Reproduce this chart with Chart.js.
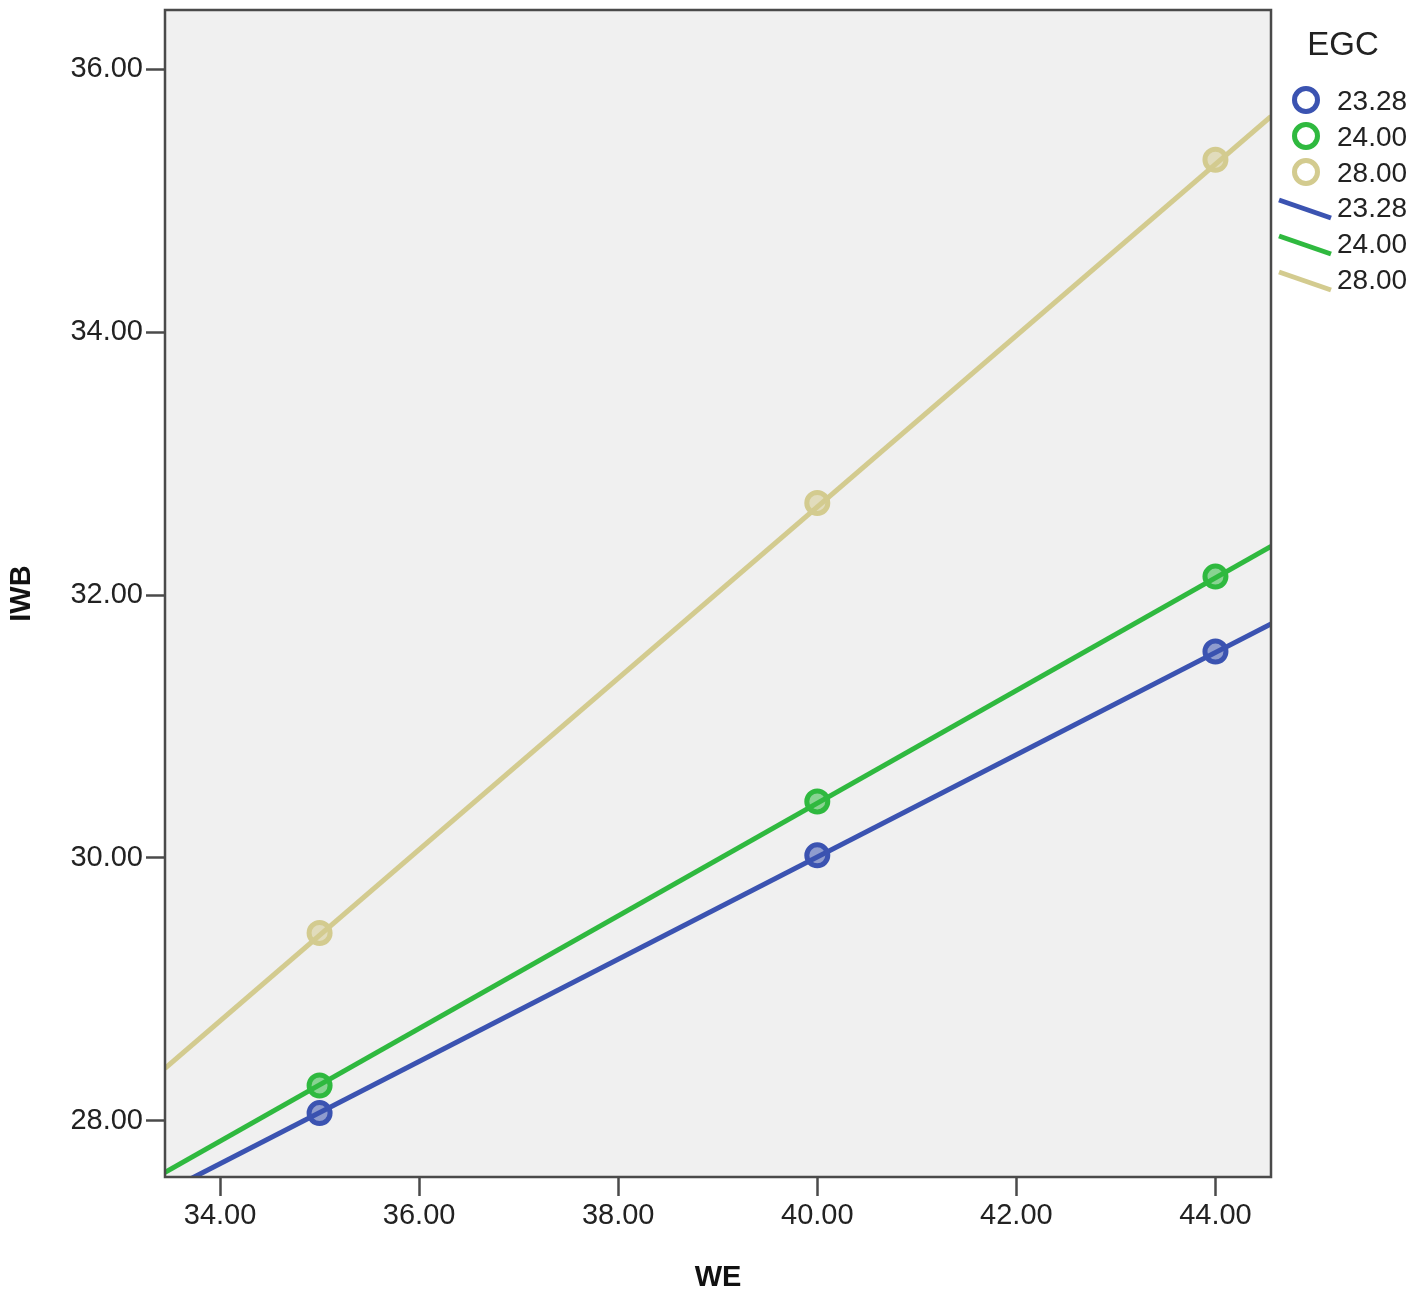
<!DOCTYPE html>
<html>
<head>
<meta charset="utf-8">
<script src="https://cdn.jsdelivr.net/npm/chart.js@4.4.1/dist/chart.umd.min.js"></script>
<style>
  html, body { margin: 0; padding: 0; background: #fff; }
  #wrap { width: 1418px; height: 1297px; }
</style>
</head>
<body>
<div id="wrap"><canvas id="chart" width="1418" height="1297"></canvas></div>
<script>
// EGC groups
var groupLabels = ["23.28", "24.00", "28.00"];
var groupColors = ["#3b53b1", "#2fb93f", "#d3cb8f"];

// observed points (WE -> IWB)
var pointX = [35, 40, 44];
var bluePoints  = [28.06, 30.02, 31.57];
var greenPoints = [28.27, 30.43, 32.14];
var tanPoints   = [29.43, 32.70, 35.31];

// fit lines, read at left and right edge of the plot
var lineX = [33.447, 44.558];
var blueLine  = [27.46, 31.78];
var greenLine = [27.61, 32.37];
var tanLine   = [28.40, 35.64];

// axes
var xTicks = [34, 36, 38, 40, 42, 44];
var yTicks = [28, 30, 32, 34, 36];
var xRange = [33.447, 44.558];
var yRange = [27.574, 36.449];

function pairs(xs, ys) {
  return xs.map(function(x, i) { return { x: x, y: ys[i] }; });
}

var FONT = "'Liberation Sans', Arial, sans-serif";

function pointSet(label, data, color) {
  return {
    label: label,
    data: pairs(pointX, data),
    showLine: false,
    pointRadius: 10.5,
    pointBorderWidth: 5,
    pointBorderColor: color,
    pointBackgroundColor: color + "88",
    order: 0
  };
}
function lineSet(label, data, color) {
  return {
    label: label,
    data: pairs(lineX, data),
    showLine: true,
    borderColor: color,
    borderWidth: 5,
    pointRadius: 0,
    order: 1
  };
}

var plotFrame = {
  id: "plotFrame",
  beforeDatasetsDraw: function(chart) {
    var a = chart.chartArea, ctx = chart.ctx;
    ctx.save();
    ctx.fillStyle = "#f0f0f0";
    ctx.fillRect(a.left, a.top, a.right - a.left, a.bottom - a.top);
    ctx.restore();
  },
  afterDraw: function(chart) {
    var a = chart.chartArea, ctx = chart.ctx;
    ctx.save();
    ctx.strokeStyle = "#4a4a4a";
    ctx.lineWidth = 2.5;
    ctx.strokeRect(a.left, a.top, a.right - a.left, a.bottom - a.top);
    ctx.restore();
  }
};

var sideLegend = {
  id: "sideLegend",
  afterDraw: function(chart) {
    var ctx = chart.ctx;
    var x0 = chart.chartArea.right;
    ctx.save();
    ctx.fillStyle = "#222";
    ctx.textBaseline = "middle";
    ctx.textAlign = "center";
    ctx.font = "33px " + FONT;
    ctx.fillText("EGC", x0 + 72, 46);

    ctx.textAlign = "left";
    ctx.font = "28px " + FONT;
    var circleY = [100, 136, 172];
    var lineY = [209, 245, 281];
    for (var i = 0; i < groupLabels.length; i++) {
      ctx.strokeStyle = groupColors[i];
      ctx.lineWidth = 5;
      ctx.beginPath();
      ctx.arc(x0 + 35, circleY[i], 11.5, 0, Math.PI * 2);
      ctx.stroke();
      ctx.fillText(groupLabels[i], x0 + 66, circleY[i] + 2);
    }
    for (var j = 0; j < groupLabels.length; j++) {
      ctx.strokeStyle = groupColors[j];
      ctx.lineWidth = 5;
      ctx.beginPath();
      ctx.moveTo(x0 + 8, lineY[j] - 9);
      ctx.lineTo(x0 + 60, lineY[j] + 9);
      ctx.stroke();
      ctx.fillText(groupLabels[j], x0 + 66, lineY[j]);
    }
    ctx.restore();
  }
};

var axisTick = {
  display: true,
  drawOnChartArea: false,
  drawTicks: true,
  tickLength: 19,
  tickWidth: 2.5,
  tickColor: "#4a4a4a"
};

new Chart(document.getElementById("chart").getContext("2d"), {
  type: "scatter",
  data: {
    datasets: [
      lineSet(groupLabels[2], tanLine, groupColors[2]),
      lineSet(groupLabels[1], greenLine, groupColors[1]),
      lineSet(groupLabels[0], blueLine, groupColors[0]),
      pointSet(groupLabels[2], tanPoints, groupColors[2]),
      pointSet(groupLabels[1], greenPoints, groupColors[1]),
      pointSet(groupLabels[0], bluePoints, groupColors[0])
    ]
  },
  options: {
    responsive: false,
    animation: false,
    layout: { autoPadding: false, padding: { top: 10, right: 147, left: 0, bottom: 0 } },
    plugins: {
      legend: { display: false },
      tooltip: { enabled: false }
    },
    scales: {
      x: {
        type: "linear",
        min: xRange[0],
        max: xRange[1],
        afterBuildTicks: function(scale) {
          scale.ticks = xTicks.map(function(v) { return { value: v }; });
        },
        afterFit: function(scale) {
          scale.height = 120;
          scale.paddingLeft = 0;
          scale.paddingRight = 0;
        },
        grid: axisTick,
        border: { display: false },
        ticks: {
          padding: 3,
          maxRotation: 0,
          color: "#222",
          font: { family: FONT, size: 29 },
          callback: function(v) { return Number(v).toFixed(2); }
        },
        title: {
          display: true,
          text: "WE",
          color: "#111",
          padding: { top: 2, bottom: 2 },
          font: { family: FONT, size: 29, weight: "bold" }
        }
      },
      y: {
        type: "linear",
        min: yRange[0],
        max: yRange[1],
        afterBuildTicks: function(scale) {
          scale.ticks = yTicks.map(function(v) { return { value: v }; });
        },
        afterFit: function(scale) {
          scale.width = 165;
          scale.paddingTop = 0;
          scale.paddingBottom = 0;
        },
        grid: axisTick,
        border: { display: false },
        ticks: {
          padding: 3,
          color: "#222",
          font: { family: FONT, size: 29 },
          callback: function(v) { return Number(v).toFixed(2); }
        },
        title: {
          display: true,
          text: "IWB",
          color: "#111",
          padding: { top: 5, bottom: 2 },
          font: { family: FONT, size: 29, weight: "bold" }
        }
      }
    }
  },
  plugins: [plotFrame, sideLegend]
});
</script>
</body>
</html>
